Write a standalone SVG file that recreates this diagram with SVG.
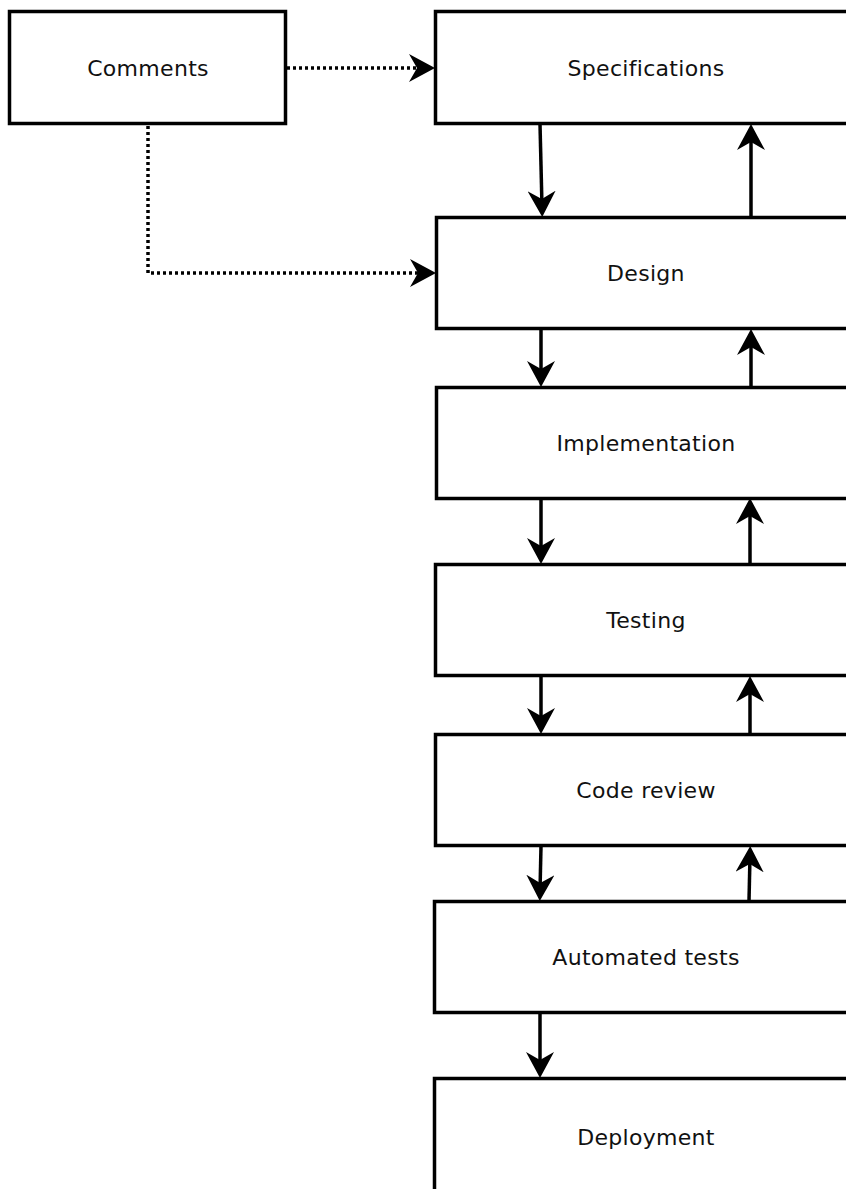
<svg xmlns="http://www.w3.org/2000/svg" width="846" height="1189" viewBox="0 0 846 1189">
<style>
.box{fill:#fff;stroke:#000;stroke-width:3.5}
.lbl{font-family:"DejaVu Sans",Verdana,sans-serif;font-size:22px;letter-spacing:0.3px;fill:#111;text-anchor:middle}
.c{fill:none;stroke:#000;stroke-width:3.5}
.d{fill:none;stroke:#000;stroke-width:3.5;stroke-dasharray:3 3}
</style>
<defs>
<marker id="ah" markerUnits="userSpaceOnUse" markerWidth="26" markerHeight="28" viewBox="0 0 26 28" refX="16" refY="14" orient="auto">
<path d="M26,14 L0,0 L8,14 L0,28 Z" fill="#000"/>
</marker>
</defs>
<rect width="846" height="1189" fill="#fff"/>
<g id="connectors">
<path class="d" d="M287,68 H425" marker-end="url(#ah)"/>
<path class="d" d="M148,126 V273 H426" marker-end="url(#ah)"/>
<path class="c" d="M540,124 L542,207" marker-end="url(#ah)"/>
<path class="c" d="M751,217 V134" marker-end="url(#ah)"/>
<path class="c" d="M541,329 V377" marker-end="url(#ah)"/>
<path class="c" d="M751,387 V339" marker-end="url(#ah)"/>
<path class="c" d="M541,498 V554" marker-end="url(#ah)"/>
<path class="c" d="M750,564 V508" marker-end="url(#ah)"/>
<path class="c" d="M541,676 V724" marker-end="url(#ah)"/>
<path class="c" d="M750,734 V686" marker-end="url(#ah)"/>
<path class="c" d="M541,846 L540,891" marker-end="url(#ah)"/>
<path class="c" d="M749,901 L750,856" marker-end="url(#ah)"/>
<path class="c" d="M540,1012 V1068" marker-end="url(#ah)"/>
</g>
<g id="comments"><rect class="box" x="9.5" y="11.5" width="276" height="112"/><text class="lbl" x="148" y="76">Comments</text></g>
<g id="specifications"><rect class="box" x="435.5" y="11.5" width="430" height="112"/><text class="lbl" x="646" y="76">Specifications</text></g>
<g id="design"><rect class="box" x="436.5" y="217.5" width="430" height="111"/><text class="lbl" x="646" y="281">Design</text></g>
<g id="implementation"><rect class="box" x="436.5" y="387.5" width="430" height="111"/><text class="lbl" x="646" y="451">Implementation</text></g>
<g id="testing"><rect class="box" x="435.5" y="564.5" width="430" height="111"/><text class="lbl" x="646" y="628">Testing</text></g>
<g id="code-review"><rect class="box" x="435.5" y="734.5" width="430" height="111"/><text class="lbl" x="646" y="798">Code review</text></g>
<g id="automated-tests"><rect class="box" x="434.5" y="901.5" width="430" height="111"/><text class="lbl" x="646" y="965">Automated tests</text></g>
<g id="deployment"><rect class="box" x="434.5" y="1078.5" width="430" height="140"/><text class="lbl" x="646" y="1145">Deployment</text></g>
</svg>
